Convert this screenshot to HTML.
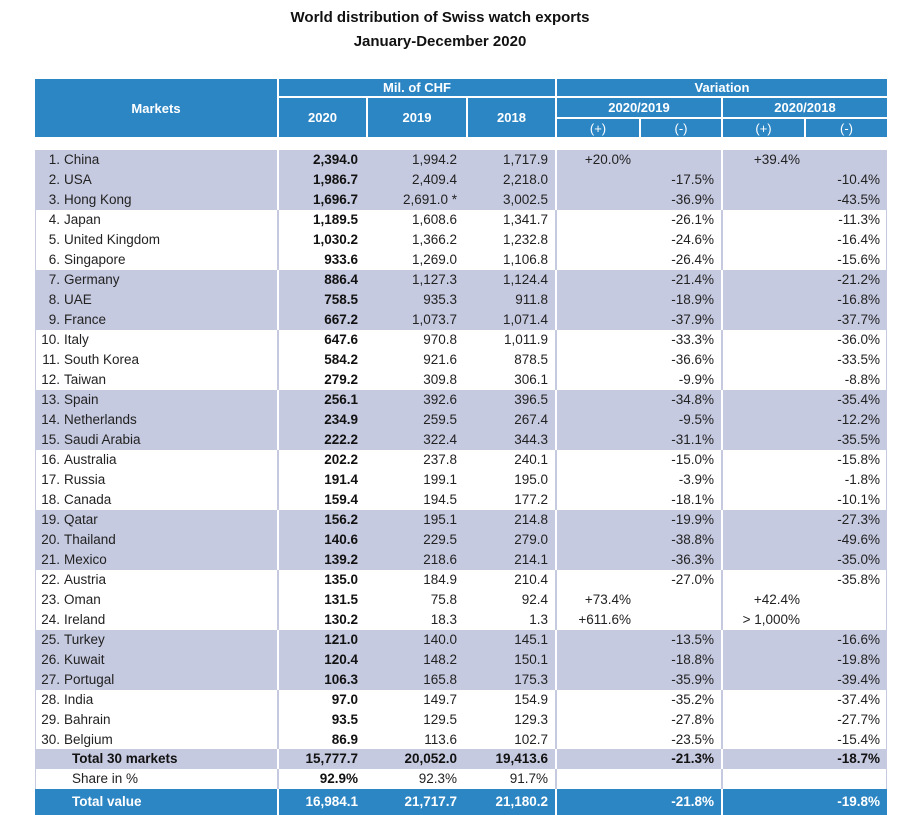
<!DOCTYPE html>
<html><head><meta charset="utf-8"><style>
body{margin:0;width:909px;height:815px;background:#fff;position:relative;overflow:hidden;font-family:"Liberation Sans",sans-serif;color:#222}
.t{position:absolute;left:0;width:880px;text-align:center;font-weight:bold;font-size:15px;color:#111}
.h{position:absolute;background:#2d86c4;color:#fff;font-weight:bold;font-size:13px;text-align:center;display:flex;align-items:center;justify-content:center}
.r{position:absolute;left:35px;width:852px;height:20px;font-size:13.5px;line-height:20px}
.s{background:#c6cae0}
.r span{position:absolute;top:0;white-space:nowrap}
.n{right:827px}.m{left:29px}.mt{left:37px}
.a{right:529px;font-weight:bold;color:#111}.b{right:430px}.c{right:339px}
.p1{right:256px}.m1{right:173px}.p2{right:87px}.m2{right:7px}
.w{position:absolute;width:2px;background:#fff}
</style></head><body>
<div class="t" style="top:9px">World distribution of Swiss watch exports</div>
<div class="t" style="top:33px">January-December 2020</div>
<div class="h" style="left:35px;top:79px;width:242px;height:58px">Markets</div>
<div class="h" style="left:279px;top:79px;width:276px;height:17px">Mil. of CHF</div>
<div class="h" style="left:279px;top:98px;width:87px;height:39px">2020</div>
<div class="h" style="left:368px;top:98px;width:98px;height:39px">2019</div>
<div class="h" style="left:468px;top:98px;width:87px;height:39px">2018</div>
<div class="h" style="left:557px;top:79px;width:330px;height:17px">Variation</div>
<div class="h" style="left:557px;top:98px;width:164px;height:19px">2020/2019</div>
<div class="h" style="left:723px;top:98px;width:164px;height:19px">2020/2018</div>
<div class="h" style="left:557px;top:119px;width:82px;height:18px;font-weight:normal">(+)</div>
<div class="h" style="left:641px;top:119px;width:80px;height:18px;font-weight:normal">(-)</div>
<div class="h" style="left:723px;top:119px;width:81px;height:18px;font-weight:normal">(+)</div>
<div class="h" style="left:806px;top:119px;width:81px;height:18px;font-weight:normal">(-)</div>

<div class="r s" style="top:150px;height:60px"></div>
<div class="r s" style="top:270px;height:60px"></div>
<div class="r s" style="top:390px;height:60px"></div>
<div class="r s" style="top:510px;height:60px"></div>
<div class="r s" style="top:630px;height:60px"></div>
<div class="r s" style="top:749px;height:20px"></div>
<div style="position:absolute;left:35px;top:150px;width:850px;height:639px;border-left:1px solid #c6cae0;border-right:1px solid #c6cae0"></div>
<div style="position:absolute;left:277px;top:150px;width:2px;height:639px;background:#c6cae0"></div>
<div style="position:absolute;left:555px;top:150px;width:2px;height:639px;background:#c6cae0"></div>
<div style="position:absolute;left:721px;top:150px;width:2px;height:639px;background:#c6cae0"></div>
<div class="w" style="left:277px;top:150px;height:60px"></div><div class="w" style="left:555px;top:150px;height:60px"></div><div class="w" style="left:721px;top:150px;height:60px"></div>
<div class="w" style="left:277px;top:270px;height:60px"></div><div class="w" style="left:555px;top:270px;height:60px"></div><div class="w" style="left:721px;top:270px;height:60px"></div>
<div class="w" style="left:277px;top:390px;height:60px"></div><div class="w" style="left:555px;top:390px;height:60px"></div><div class="w" style="left:721px;top:390px;height:60px"></div>
<div class="w" style="left:277px;top:510px;height:60px"></div><div class="w" style="left:555px;top:510px;height:60px"></div><div class="w" style="left:721px;top:510px;height:60px"></div>
<div class="w" style="left:277px;top:630px;height:60px"></div><div class="w" style="left:555px;top:630px;height:60px"></div><div class="w" style="left:721px;top:630px;height:60px"></div>
<div class="w" style="left:277px;top:749px;height:20px"></div><div class="w" style="left:555px;top:749px;height:20px"></div><div class="w" style="left:721px;top:749px;height:20px"></div>

<div class="r" style="top:150px"><span class="n">1.</span><span class="m">China</span><span class="a">2,394.0</span><span class="b">1,994.2</span><span class="c">1,717.9</span><span class="p1">+20.0%</span><span class="p2">+39.4%</span></div>
<div class="r" style="top:170px"><span class="n">2.</span><span class="m">USA</span><span class="a">1,986.7</span><span class="b">2,409.4</span><span class="c">2,218.0</span><span class="m1">-17.5%</span><span class="m2">-10.4%</span></div>
<div class="r" style="top:190px"><span class="n">3.</span><span class="m">Hong Kong</span><span class="a">1,696.7</span><span class="b">2,691.0 *</span><span class="c">3,002.5</span><span class="m1">-36.9%</span><span class="m2">-43.5%</span></div>
<div class="r" style="top:210px"><span class="n">4.</span><span class="m">Japan</span><span class="a">1,189.5</span><span class="b">1,608.6</span><span class="c">1,341.7</span><span class="m1">-26.1%</span><span class="m2">-11.3%</span></div>
<div class="r" style="top:230px"><span class="n">5.</span><span class="m">United Kingdom</span><span class="a">1,030.2</span><span class="b">1,366.2</span><span class="c">1,232.8</span><span class="m1">-24.6%</span><span class="m2">-16.4%</span></div>
<div class="r" style="top:250px"><span class="n">6.</span><span class="m">Singapore</span><span class="a">933.6</span><span class="b">1,269.0</span><span class="c">1,106.8</span><span class="m1">-26.4%</span><span class="m2">-15.6%</span></div>
<div class="r" style="top:270px"><span class="n">7.</span><span class="m">Germany</span><span class="a">886.4</span><span class="b">1,127.3</span><span class="c">1,124.4</span><span class="m1">-21.4%</span><span class="m2">-21.2%</span></div>
<div class="r" style="top:290px"><span class="n">8.</span><span class="m">UAE</span><span class="a">758.5</span><span class="b">935.3</span><span class="c">911.8</span><span class="m1">-18.9%</span><span class="m2">-16.8%</span></div>
<div class="r" style="top:310px"><span class="n">9.</span><span class="m">France</span><span class="a">667.2</span><span class="b">1,073.7</span><span class="c">1,071.4</span><span class="m1">-37.9%</span><span class="m2">-37.7%</span></div>
<div class="r" style="top:330px"><span class="n">10.</span><span class="m">Italy</span><span class="a">647.6</span><span class="b">970.8</span><span class="c">1,011.9</span><span class="m1">-33.3%</span><span class="m2">-36.0%</span></div>
<div class="r" style="top:350px"><span class="n">11.</span><span class="m">South Korea</span><span class="a">584.2</span><span class="b">921.6</span><span class="c">878.5</span><span class="m1">-36.6%</span><span class="m2">-33.5%</span></div>
<div class="r" style="top:370px"><span class="n">12.</span><span class="m">Taiwan</span><span class="a">279.2</span><span class="b">309.8</span><span class="c">306.1</span><span class="m1">-9.9%</span><span class="m2">-8.8%</span></div>
<div class="r" style="top:390px"><span class="n">13.</span><span class="m">Spain</span><span class="a">256.1</span><span class="b">392.6</span><span class="c">396.5</span><span class="m1">-34.8%</span><span class="m2">-35.4%</span></div>
<div class="r" style="top:410px"><span class="n">14.</span><span class="m">Netherlands</span><span class="a">234.9</span><span class="b">259.5</span><span class="c">267.4</span><span class="m1">-9.5%</span><span class="m2">-12.2%</span></div>
<div class="r" style="top:430px"><span class="n">15.</span><span class="m">Saudi Arabia</span><span class="a">222.2</span><span class="b">322.4</span><span class="c">344.3</span><span class="m1">-31.1%</span><span class="m2">-35.5%</span></div>
<div class="r" style="top:450px"><span class="n">16.</span><span class="m">Australia</span><span class="a">202.2</span><span class="b">237.8</span><span class="c">240.1</span><span class="m1">-15.0%</span><span class="m2">-15.8%</span></div>
<div class="r" style="top:470px"><span class="n">17.</span><span class="m">Russia</span><span class="a">191.4</span><span class="b">199.1</span><span class="c">195.0</span><span class="m1">-3.9%</span><span class="m2">-1.8%</span></div>
<div class="r" style="top:490px"><span class="n">18.</span><span class="m">Canada</span><span class="a">159.4</span><span class="b">194.5</span><span class="c">177.2</span><span class="m1">-18.1%</span><span class="m2">-10.1%</span></div>
<div class="r" style="top:510px"><span class="n">19.</span><span class="m">Qatar</span><span class="a">156.2</span><span class="b">195.1</span><span class="c">214.8</span><span class="m1">-19.9%</span><span class="m2">-27.3%</span></div>
<div class="r" style="top:530px"><span class="n">20.</span><span class="m">Thailand</span><span class="a">140.6</span><span class="b">229.5</span><span class="c">279.0</span><span class="m1">-38.8%</span><span class="m2">-49.6%</span></div>
<div class="r" style="top:550px"><span class="n">21.</span><span class="m">Mexico</span><span class="a">139.2</span><span class="b">218.6</span><span class="c">214.1</span><span class="m1">-36.3%</span><span class="m2">-35.0%</span></div>
<div class="r" style="top:570px"><span class="n">22.</span><span class="m">Austria</span><span class="a">135.0</span><span class="b">184.9</span><span class="c">210.4</span><span class="m1">-27.0%</span><span class="m2">-35.8%</span></div>
<div class="r" style="top:590px"><span class="n">23.</span><span class="m">Oman</span><span class="a">131.5</span><span class="b">75.8</span><span class="c">92.4</span><span class="p1">+73.4%</span><span class="p2">+42.4%</span></div>
<div class="r" style="top:610px"><span class="n">24.</span><span class="m">Ireland</span><span class="a">130.2</span><span class="b">18.3</span><span class="c">1.3</span><span class="p1">+611.6%</span><span class="p2">&gt; 1,000%</span></div>
<div class="r" style="top:630px"><span class="n">25.</span><span class="m">Turkey</span><span class="a">121.0</span><span class="b">140.0</span><span class="c">145.1</span><span class="m1">-13.5%</span><span class="m2">-16.6%</span></div>
<div class="r" style="top:650px"><span class="n">26.</span><span class="m">Kuwait</span><span class="a">120.4</span><span class="b">148.2</span><span class="c">150.1</span><span class="m1">-18.8%</span><span class="m2">-19.8%</span></div>
<div class="r" style="top:670px"><span class="n">27.</span><span class="m">Portugal</span><span class="a">106.3</span><span class="b">165.8</span><span class="c">175.3</span><span class="m1">-35.9%</span><span class="m2">-39.4%</span></div>
<div class="r" style="top:690px"><span class="n">28.</span><span class="m">India</span><span class="a">97.0</span><span class="b">149.7</span><span class="c">154.9</span><span class="m1">-35.2%</span><span class="m2">-37.4%</span></div>
<div class="r" style="top:710px"><span class="n">29.</span><span class="m">Bahrain</span><span class="a">93.5</span><span class="b">129.5</span><span class="c">129.3</span><span class="m1">-27.8%</span><span class="m2">-27.7%</span></div>
<div class="r" style="top:730px"><span class="n">30.</span><span class="m">Belgium</span><span class="a">86.9</span><span class="b">113.6</span><span class="c">102.7</span><span class="m1">-23.5%</span><span class="m2">-15.4%</span></div>
<div class="r" style="top:749px;font-weight:bold;color:#111"><span class="mt">Total 30 markets</span><span class="a">15,777.7</span><span class="b">20,052.0</span><span class="c">19,413.6</span><span class="m1">-21.3%</span><span class="m2">-18.7%</span></div>
<div class="r" style="top:769px"><span class="mt">Share in %</span><span class="a">92.9%</span><span class="b">92.3%</span><span class="c">91.7%</span></div>
<div class="r" style="top:789px;height:26px;line-height:26px;background:#2d86c4;color:#fff;font-weight:bold"><span class="mt">Total value</span><span class="a" style="color:#fff">16,984.1</span><span class="b">21,717.7</span><span class="c">21,180.2</span><span class="m1">-21.8%</span><span class="m2">-19.8%</span></div>
<div class="w" style="left:277px;top:789px;height:26px"></div><div class="w" style="left:555px;top:789px;height:26px"></div><div class="w" style="left:721px;top:789px;height:26px"></div>
</body></html>
